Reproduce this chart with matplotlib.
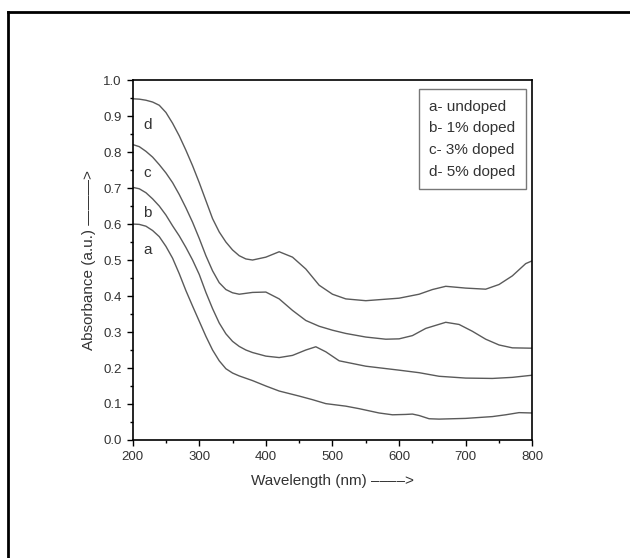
import matplotlib.pyplot as plt
from matplotlib.ticker import MultipleLocator
from matplotlib.lines import Line2D

plt.rcParams['font.family'] = ['Liberation Sans', 'DejaVu Sans']

# absorbance spectra
wl_a = [200, 210, 220, 230, 240, 250, 260, 270, 280, 290, 300, 310, 320, 330, 340, 350,
        360, 380, 400, 420, 450, 470, 490, 520, 540, 570, 590, 610, 620, 630, 645, 660,
        700, 740, 760, 780, 800]
abs_a = [0.600, 0.599, 0.594, 0.582, 0.565, 0.538, 0.505, 0.462, 0.415, 0.372, 0.330, 0.288,
         0.250, 0.220, 0.198, 0.186, 0.178, 0.165, 0.150, 0.136, 0.122, 0.112, 0.101, 0.094,
         0.087, 0.075, 0.070, 0.071, 0.072, 0.068, 0.059, 0.058, 0.060, 0.065, 0.070, 0.076,
         0.075]

wl_b = [200, 210, 220, 230, 240, 250, 260, 270, 280, 290, 300, 310, 320, 330, 340, 350,
        360, 370, 380, 400, 420, 440, 460, 475, 490, 510, 550, 600, 630, 660, 700, 740,
        770, 800]
abs_b = [0.702, 0.698, 0.687, 0.670, 0.650, 0.625, 0.595, 0.567, 0.535, 0.500, 0.460, 0.410,
         0.365, 0.325, 0.295, 0.274, 0.260, 0.250, 0.243, 0.233, 0.229, 0.235, 0.250, 0.259,
         0.245, 0.220, 0.205, 0.194, 0.187, 0.177, 0.172, 0.171, 0.174, 0.180]

wl_c = [200, 210, 220, 230, 240, 250, 260, 270, 280, 290, 300, 310, 320, 330, 340, 350,
        360, 380, 400, 420, 440, 460, 480, 500, 520, 550, 580, 600, 620, 640, 670, 690,
        710, 730, 750, 770, 800]
abs_c = [0.821, 0.815, 0.802, 0.786, 0.765, 0.742, 0.715, 0.682, 0.645, 0.605, 0.560, 0.512,
         0.470, 0.437, 0.418, 0.409, 0.405, 0.410, 0.411, 0.392, 0.360, 0.332, 0.316, 0.305,
         0.296, 0.286, 0.280, 0.281, 0.290, 0.310, 0.327, 0.321, 0.302, 0.280, 0.264, 0.256,
         0.255]

wl_d = [200, 210, 220, 230, 240, 250, 260, 270, 280, 290, 300, 310, 320, 330, 340, 350,
        360, 370, 380, 400, 420, 440, 460, 480, 500, 520, 550, 600, 630, 650, 670, 700,
        730, 750, 770, 790, 800]
abs_d = [0.948, 0.947, 0.944, 0.939, 0.930, 0.910, 0.880, 0.845, 0.805, 0.762, 0.715, 0.665,
         0.615, 0.578, 0.550, 0.528, 0.512, 0.503, 0.500, 0.508, 0.523, 0.508, 0.475, 0.430,
         0.405, 0.392, 0.387, 0.394, 0.405, 0.418, 0.427, 0.422, 0.419, 0.432, 0.456, 0.490,
         0.498]

letters = ['a', 'b', 'c', 'd']
letter_y = [0.528, 0.631, 0.742, 0.875]
legend_lines = ['a- undoped', 'b- 1% doped', 'c- 3% doped', 'd- 5% doped']

fig = plt.figure(figsize=(6.3, 5.58), dpi=100)
ax = fig.add_axes([0.2105, 0.2115, 0.6345, 0.645])

line_col = '#5a5a5a'
for wl, ab in [(wl_a, abs_a), (wl_b, abs_b), (wl_c, abs_c), (wl_d, abs_d)]:
    ax.plot(wl, ab, color=line_col, lw=1.0, solid_joinstyle='round')

for lt, ly in zip(letters, letter_y):
    ax.text(222, ly, lt, fontsize=11, color='#333333', ha='center', va='center')

ax.set_xlim(200, 800)
ax.set_ylim(0, 1.0)
ax.xaxis.set_major_locator(MultipleLocator(100))
ax.xaxis.set_minor_locator(MultipleLocator(50))
ax.yaxis.set_major_locator(MultipleLocator(0.1))
ax.yaxis.set_minor_locator(MultipleLocator(0.05))
ax.yaxis.set_major_formatter(plt.FormatStrFormatter('%.1f'))
ax.tick_params(which='major', length=4, width=1, direction='out', labelsize=9.5,
               labelcolor='#333333', pad=4)
ax.tick_params(which='minor', length=2, width=1, direction='out')
for s in ax.spines.values():
    s.set_linewidth(1.2)

ax.set_xlabel('Wavelength (nm) \u2013\u2013\u2013\u2013>', fontsize=11, color='#333333', labelpad=8)
ax.set_ylabel('Absorbance (a.u.) \u2014\u2014\u2014>', fontsize=11, color='#333333', labelpad=5)

# legend box with text only
ax.legend([Line2D([], [], lw=0)] * 4, legend_lines, loc='upper right',
          bbox_to_anchor=(0.985, 0.975), fontsize=11, handlelength=0, handletextpad=0,
          fancybox=False, edgecolor='#777777', framealpha=1, labelspacing=0.5,
          borderpad=0.7, borderaxespad=0, labelcolor='#333333')

# page frame (top and left edges only)
fig.add_artist(Line2D([8 / 630, 8 / 630], [0, 1 - 12 / 558], color='black', lw=2,
                      transform=fig.transFigure))
fig.add_artist(Line2D([8 / 630, 1], [1 - 12 / 558, 1 - 12 / 558], color='black', lw=2,
                      transform=fig.transFigure))

fig.savefig('out.png', dpi=100)
